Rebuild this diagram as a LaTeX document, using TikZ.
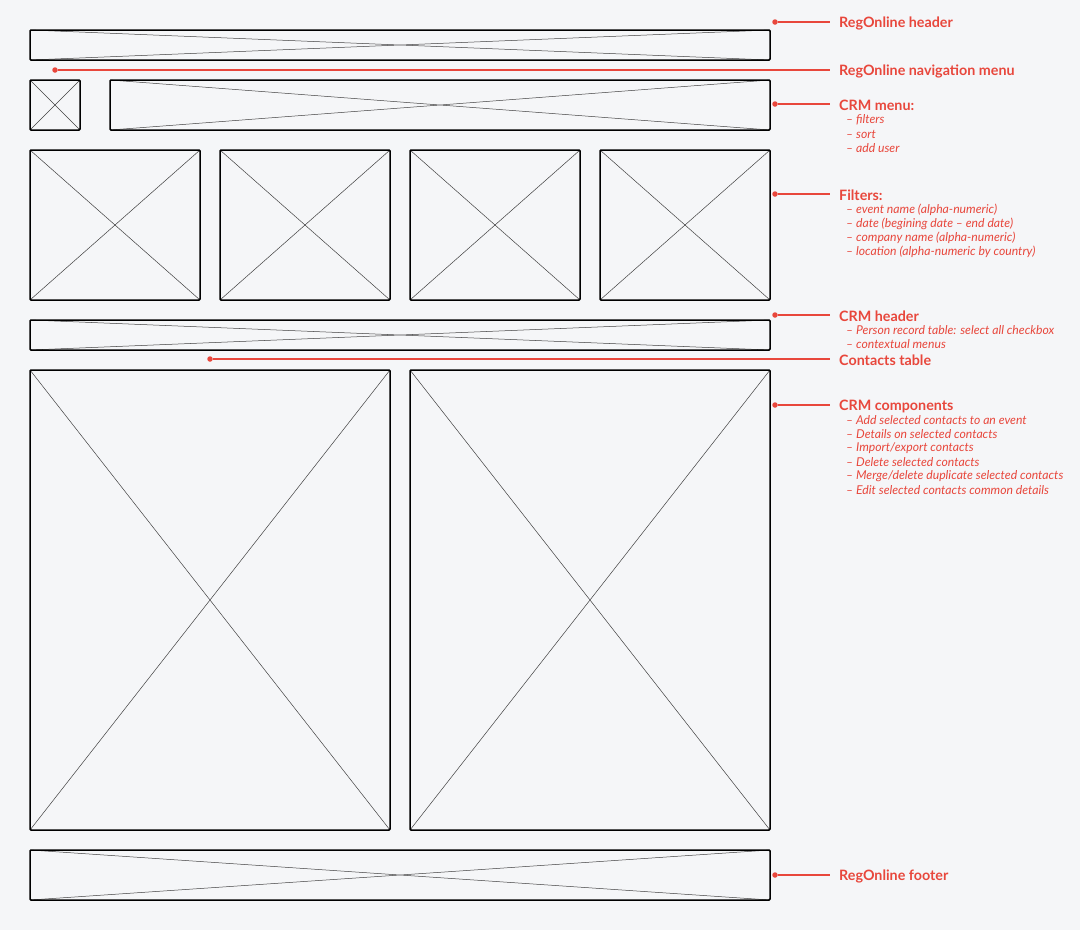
\documentclass[tikz,border=0pt]{standalone}
\usepackage{fontspec}
\setmainfont{Lato}
\begin{document}
\begin{tikzpicture}[x=1pt,y=-1pt,
  wbox/.style={draw=black,line width=1.5pt,rounded corners=1pt},
  xline/.style={draw=black!75,line width=0.5pt},
  lead/.style={draw=rd,line width=1.2pt},
  dotm/.style={circle,fill=rd,inner sep=0pt,minimum size=5.5pt},
  ttl/.style={anchor=west,inner sep=0pt,text=rd,font=\bfseries\fontsize{14.3}{16}\selectfont},
  sub/.style={anchor=west,inner sep=0pt,text=rd,font=\itshape\fontsize{12.2}{14}\selectfont}]
\definecolor{bg}{HTML}{F5F6F8}
\definecolor{rd}{HTML}{E8473C}
\fill[bg] (0,0) rectangle (1080,930);
\useasboundingbox (0,0) rectangle (1080,930);
\foreach \n/\a/\b/\c/\d in {hdr/30/30/770/60, nav/30/80/80/130, menu/110/80/770/130,
  f1/30/150/200/300, f2/220/150/390/300, f3/410/150/580/300, f4/600/150/770/300,
  crmh/30/320/770/350, t1/30/370/390/830, t2/410/370/770/830, ftr/30/850/770/900}{
  \draw[xline] (\a,\b) -- (\c,\d) (\a,\d) -- (\c,\b);
  \draw[wbox] (\a,\b) rectangle (\c,\d);
  \coordinate (\n) at (\a,\b);
}
\foreach \n/\x/\y/\t in {c1/775/22/RegOnline header, c2/55/70/RegOnline navigation menu,
  c3/775/104/CRM menu:, c4/775/194/Filters:, c5/775/315/CRM header,
  c6/210/359/Contacts table, c7/775/405/CRM components, c8/775/875/RegOnline footer}{
  \node[dotm] (\n d) at (\x,\y) {};
  \node[ttl] (\n t) at (839,\y+1) {\t};
  \draw[lead] (\n d) -- (830,\y);
}
\foreach \t [count=\i] in {filters, sort, add user}
  \node[sub] at (846,106+14*\i) {– \t};
\foreach \t [count=\i] in {event name (alpha-numeric), date (begining date – end date), company name (alpha-numeric), location (alpha-numeric by country)}
  \node[sub] at (846,196+14*\i) {– \t};
\foreach \t [count=\i] in {Person record table: select all checkbox, contextual menus}
  \node[sub] at (846,316+14*\i) {– \t};
\foreach \t [count=\i] in {Add selected contacts to an event, Details on selected contacts, Import/export contacts, Delete selected contacts, Merge/delete duplicate selected contacts, Edit selected contacts common details}
  \node[sub] at (846,406+14*\i) {– \t};
\end{tikzpicture}
\end{document}
